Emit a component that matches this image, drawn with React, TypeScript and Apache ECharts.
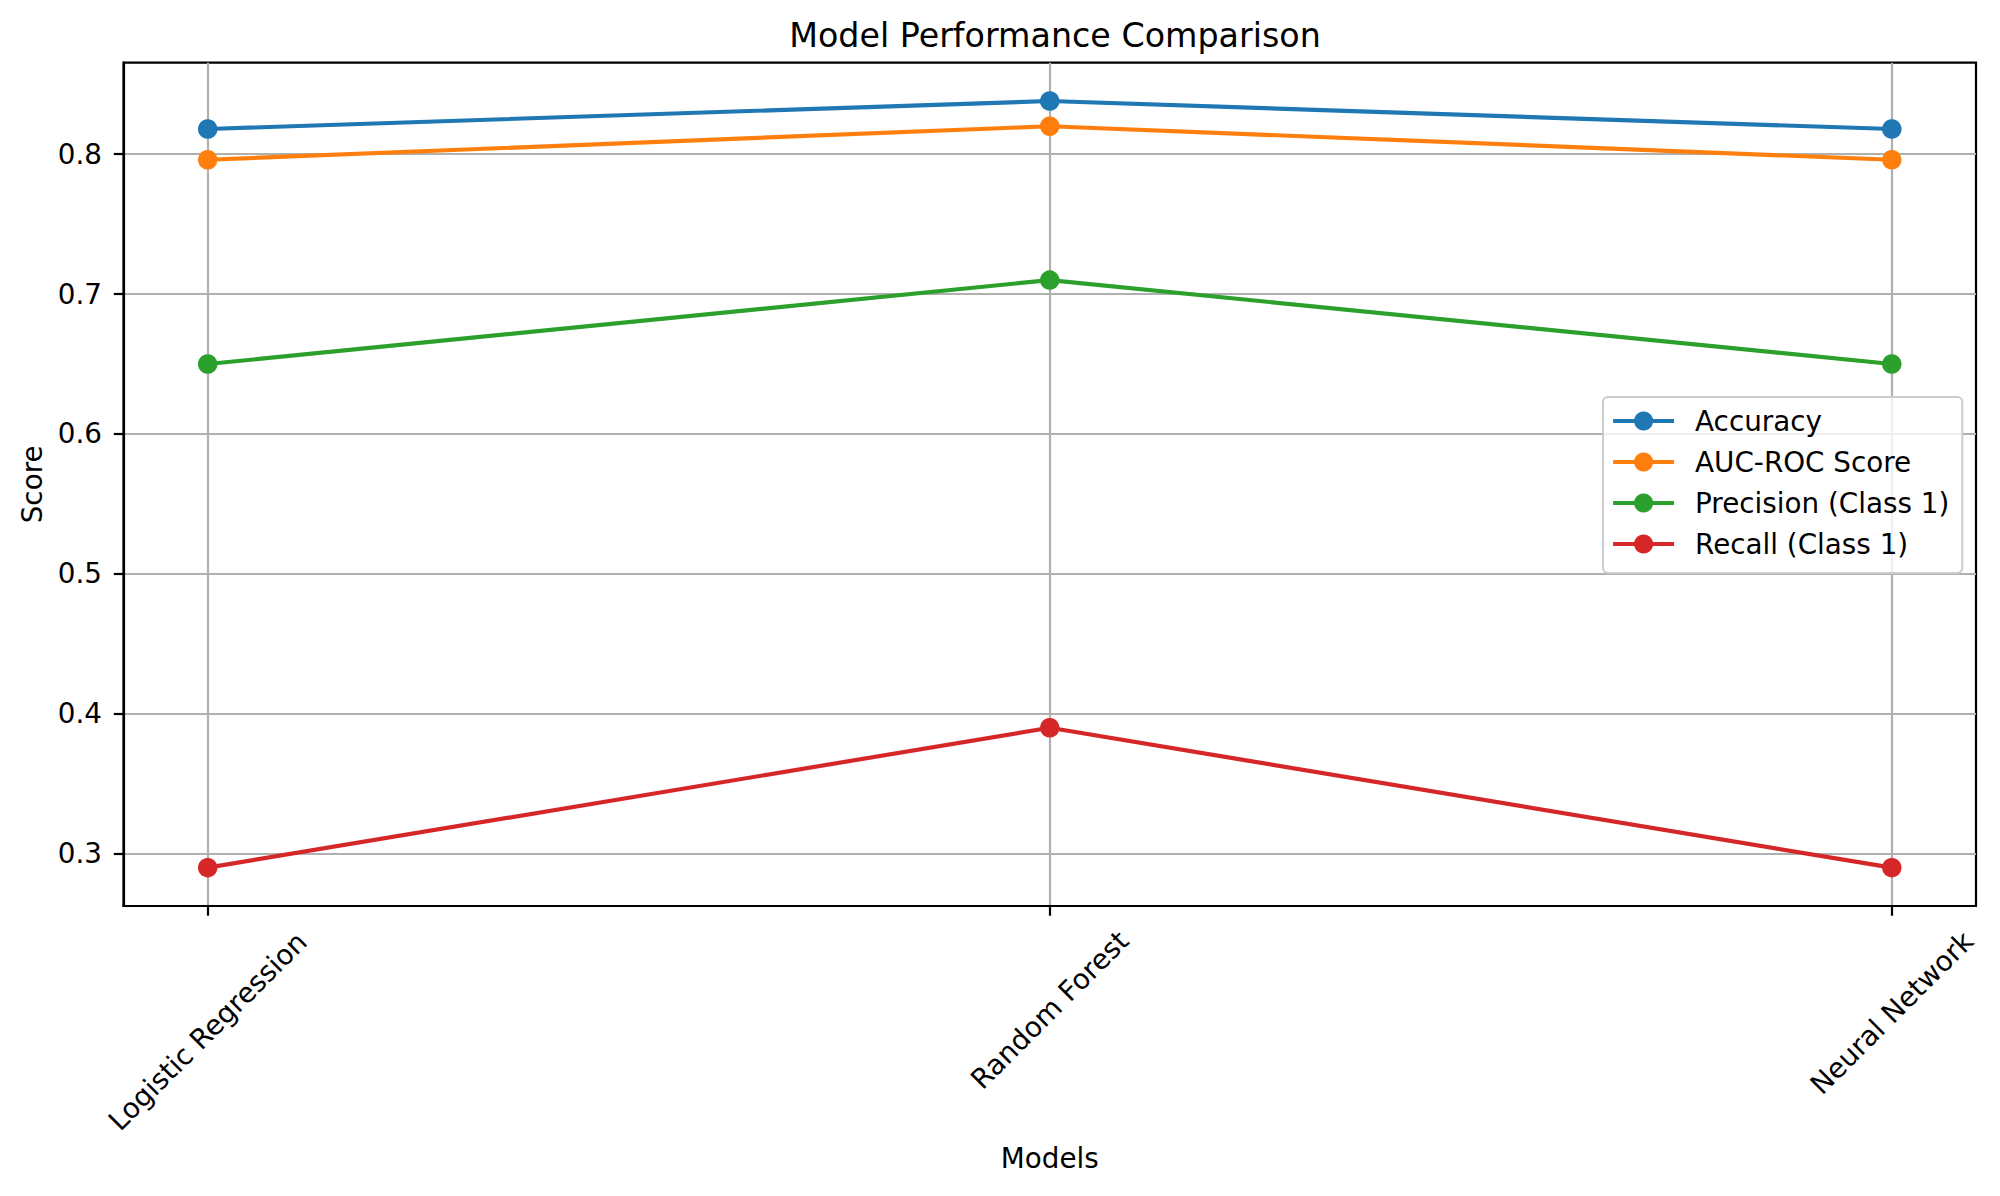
import React, { useEffect, useRef } from "react";
import * as echarts from "echarts";

const models = ["Logistic Regression", "Random Forest", "Neural Network"];
const seriesNames = ["Accuracy", "AUC-ROC Score", "Precision (Class 1)", "Recall (Class 1)"];
const accuracy = [0.818, 0.838, 0.818];
const aucRoc = [0.796, 0.82, 0.796];
const precision = [0.65, 0.71, 0.65];
const recall = [0.29, 0.39, 0.29];
const yTicks = [0.3, 0.4, 0.5, 0.6, 0.7, 0.8];
const xTicks = [0, 1, 2];
const colors = ["#1f77b4", "#ff7f0e", "#2ca02c", "#d62728"];

const FONT = "DejaVu Sans";
const FS = 27.8;

export default function App() {
  const ref = useRef<HTMLDivElement>(null);
  useEffect(() => {
    if (!ref.current) return;
    const chart = echarts.init(ref.current, undefined, { renderer: "svg" });
    const allSeries = [accuracy, aucRoc, precision, recall];
    const allVals = allSeries.flat();
    const dMin = Math.min(...allVals);
    const dMax = Math.max(...allVals);
    const pad = (dMax - dMin) * 0.05;
    const labelPad = [30, 0, 4];
    const rich: any = {};
    models.forEach((_, i) => {
      rich["c" + i] = {
        fontFamily: FONT,
        fontSize: FS,
        color: "#000",
        padding: [labelPad[i], labelPad[i], 0, 0],
      };
    });
    const axisLine = { show: true, onZero: false, lineStyle: { color: "#000", width: 2.2 } };
    const tickStyle = { color: "#000", width: 2.2 };
    chart.setOption({
      animation: false,
      backgroundColor: "#fff",
      textStyle: { fontFamily: FONT },
      title: {
        text: "Model Performance Comparison",
        left: 1050,
        textAlign: "center",
        top: 10,
        textStyle: { fontFamily: FONT, fontSize: 33.3, fontWeight: "normal", color: "#000", lineHeight: 40 },
      },
      grid: {
        left: 123.5,
        top: 62.7,
        width: 1852.5,
        height: 843.3,
        show: true,
        borderColor: "#000",
        borderWidth: 2.2,
        backgroundColor: "transparent",
      },
      legend: {
        orient: "vertical",
        left: 1603,
        top: 397,
        data: seriesNames,
        itemWidth: 61,
        itemHeight: 24,
        itemGap: 9,
        padding: [8, 13, 13, 8],
        backgroundColor: "rgba(255,255,255,0.8)",
        borderColor: "#cccccc",
        borderWidth: 2,
        borderRadius: 5,
        lineStyle: { width: 4.17 },
        textStyle: { fontFamily: FONT, fontSize: FS, color: "#000", lineHeight: 32, padding: [0, 0, 0, 16] },
      },
      xAxis: {
        type: "value",
        min: -0.1,
        max: 2.1,
        position: "bottom",
        name: "Models",
        nameLocation: "middle",
        nameGap: 252,
        nameTextStyle: { fontFamily: FONT, fontSize: FS, color: "#000", verticalAlign: "middle" },
        axisLine,
        axisTick: { show: true, inside: false, length: 9.7, customValues: xTicks, lineStyle: tickStyle },
        axisLabel: {
          customValues: xTicks,
          rotate: 45,
          align: "center",
          verticalAlign: "middle",
          margin: 104,
          fontFamily: FONT,
          fontSize: FS,
          color: "#000",
          formatter: (v: number) => {
            const i = Math.round(v);
            return "{c" + i + "|" + models[i] + "}";
          },
          rich,
        },
        splitLine: { show: true, lineStyle: { color: "#b0b0b0", width: 2.2 } },
      },
      yAxis: {
        type: "value",
        min: dMin - pad,
        max: dMax + pad,
        position: "left",
        name: "Score",
        nameLocation: "middle",
        nameGap: 91.5,
        nameRotate: 90,
        nameTextStyle: { fontFamily: FONT, fontSize: FS, color: "#000", verticalAlign: "middle" },
        axisLine,
        axisTick: { show: true, inside: false, length: 9.7, customValues: yTicks, lineStyle: tickStyle },
        axisLabel: {
          customValues: yTicks,
          margin: 21.5,
          fontFamily: FONT,
          fontSize: FS,
          color: "#000",
          formatter: (v: number) => v.toFixed(1),
        },
        splitLine: { show: true, lineStyle: { color: "#b0b0b0", width: 2.2 } },
      },
      series: allSeries.map((vals, si) => ({
        name: seriesNames[si],
        type: "line",
        data: models.map((_, i) => [xTicks[i], vals[i]]),
        symbol: "circle",
        symbolSize: 19.5,
        showSymbol: true,
        color: colors[si],
        lineStyle: { color: colors[si], width: 4.17 },
        itemStyle: { color: colors[si] },
        emphasis: { disabled: true },
        z: 3,
      })),
    });
    return () => chart.dispose();
  }, []);
  return <div ref={ref} style={{ position: "fixed", left: 0, top: 0, width: 2000, height: 1196 }} />;
}
